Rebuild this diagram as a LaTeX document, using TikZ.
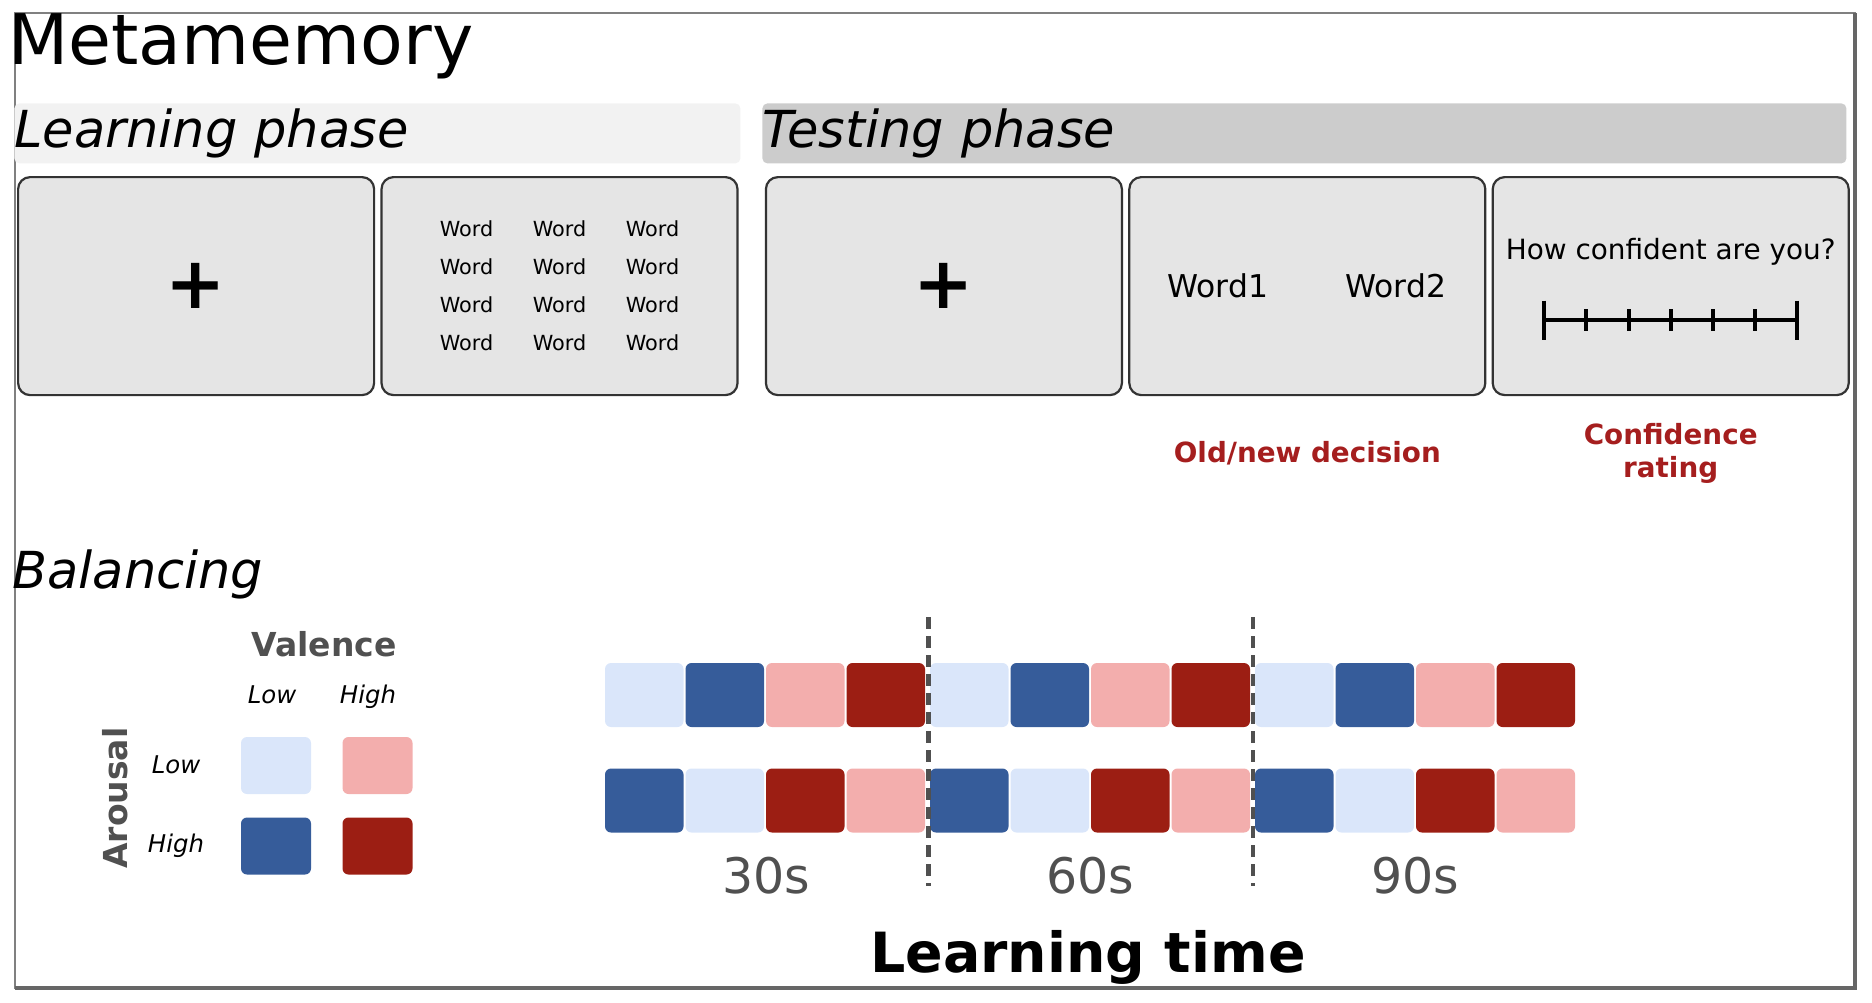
\documentclass[tikz,border=0pt]{standalone}
\usepackage{fontspec}
\setmainfont{DejaVu Sans}
\usepackage{xcolor}
\usepackage{tikz}
\usetikzlibrary{positioning}

\definecolor{lowlow}{HTML}{DAE6FA}
\definecolor{lowhigh}{HTML}{F3AEAD}
\definecolor{highlow}{HTML}{365C9A}
\definecolor{highhigh}{HTML}{9C1E13}
\definecolor{screenfill}{HTML}{E5E5E5}
\definecolor{cuered}{HTML}{A51E1E}
\definecolor{axisgray}{HTML}{505050}

\newcommand{\fixcross}{\fontsize{36}{36}\selectfont\bfseries +}

\begin{document}
\begin{tikzpicture}[
        x=0.5pt, y=-0.5pt,
        node distance=2.6pt and 2.6pt,
        % Styles
        screen/.style={
            rectangle, rounded corners=6pt,
            draw=black!80, line width=1.1pt,
            fill=screenfill,
            minimum width=178pt, minimum height=109pt,
            inner sep=0pt, align=center
        },
        phasebar/.style={
            rectangle, rounded corners=2.5pt,
            minimum height=30pt, inner sep=0pt,
            align=left, font=\fontsize{25.5}{30}\selectfont\itshape
        },
        wordtext/.style={font=\fontsize{10.4}{12}\selectfont, inner sep=0pt},
        cuetext/.style={
            text=cuered, align=center, inner sep=0pt,
            font=\fontsize{13.9}{16.5}\selectfont\bfseries
        },
        trial/.style={
            rectangle, rounded corners=3pt, inner sep=0pt,
            minimum width=39.25pt, minimum height=32pt
        },
        legendsq/.style={
            rectangle, rounded corners=3pt, inner sep=0pt,
            minimum width=35pt, minimum height=28.5pt
        },
        axislabel/.style={text=axisgray, inner sep=0pt, font=\fontsize{16.5}{20}\selectfont\bfseries},
        levellabel/.style={inner sep=0pt, font=\fontsize{12.2}{14}\selectfont\itshape},
        timetext/.style={text=axisgray, inner sep=0pt, font=\fontsize{24.5}{28}\selectfont},
        blockline/.style={draw=axisgray, line width=2.2pt, dash pattern=on 6pt off 3.5pt}
    ]
    \useasboundingbox (0,0) rectangle (1872,1002);

    % Frame
    \draw[gray, line width=0.8pt] (15,13) rectangle (1855,988);
    \draw[gray!80!black, line width=1.8pt] (1855,13) -- (1855,988) -- (15,988);

    % Titles
    \node[anchor=base west, inner sep=0pt, font=\fontsize{34.9}{40}\selectfont] (title) at (8,64) {Metamemory};
    \node[phasebar, fill=black!5, text width=363pt, anchor=north west] (learnbar) at (14,103) {Learning phase};
    \node[phasebar, fill=black!20, text width=542pt, anchor=north west] (testbar) at (762,103) {Testing phase};

    % Screens
    \node[screen, anchor=north west] (fix1) at (17,176) {\fixcross};
    \node[screen, right=of fix1] (study) {};
    \node[screen, right=of study, xshift=10.5pt] (fix2) {\fixcross};
    \node[screen, right=of fix2] (decide) {};
    \node[screen, right=of decide] (rate) {};

    % Study list
    \foreach \r in {0,...,3}
        \foreach \c in {0,1,2}
            \node[wordtext] (word\r\c) at ([shift={(\c*93-93,\r*38-57)}]study.center) {Word};

    % Old/new screen
    \node[font=\fontsize{15.7}{18}\selectfont, inner sep=0pt] (word1) at ([xshift=-44.75pt]decide.center) {Word1};
    \node[font=\fontsize{15.7}{18}\selectfont, inner sep=0pt] (word2) at ([xshift=44.25pt]decide.center) {Word2};

    % Rating screen
    \node[font=\fontsize{13.95}{16}\selectfont, inner sep=0pt] (question) at ([yshift=17.3pt]rate.center) {How confident are you?};
    \coordinate (scaleL) at ([shift={(-126.5,34)}]rate.center);
    \coordinate (scaleR) at ([shift={(126.5,34)}]rate.center);
    \draw[line width=2pt] (scaleL) -- (scaleR);
    \foreach \k in {0,6}
        \draw[line width=2.2pt] ([shift={(\k*42.17,-19.5)}]scaleL) -- ([shift={(\k*42.17,19.5)}]scaleL);
    \foreach \k in {1,...,5}
        \draw[line width=2pt] ([shift={(\k*42.17,-11)}]scaleL) -- ([shift={(\k*42.17,11)}]scaleL);

    % Cues
    \node[cuetext, anchor=base] (decidelabel) at ([yshift=-33pt]decide.south) {Old/new decision};
    \node[cuetext, anchor=north] (ratelabel) at ([yshift=-13.5pt]rate.south) {Confidence\\rating};

    % Balancing legend
    \node[anchor=base west, inner sep=0pt, font=\fontsize{25.5}{30}\selectfont\itshape] (balancetitle) at (12,588) {Balancing};
    \node[axislabel, anchor=base] (valence) at (324,656) {Valence};
    \node[levellabel, anchor=base] (vlow) at (272,703) {Low};
    \node[levellabel, anchor=base] (vhigh) at (368,703) {High};
    \node[axislabel, rotate=90, anchor=base] (arousal) at (127,798) {Arousal};
    \node[levellabel] (alow) at (176,765) {Low};
    \node[levellabel] (ahigh) at (176,846) {High};
    \node[legendsq, fill=lowlow] (sqLL) at (276,765.5) {};
    \node[legendsq, fill=lowhigh] (sqLH) at (377.5,765.5) {};
    \node[legendsq, fill=highlow] (sqHL) at (276,846) {};
    \node[legendsq, fill=highhigh] (sqHH) at (377.5,846) {};

    % Trial sequences
    \foreach \b in {0,1,2} {
        \foreach \c [count=\i from 0] in {lowlow,highlow,lowhigh,highhigh}
            \node[trial, fill=\c] (seqA\b\i) at ({644.25+325*\b+80.5*\i},695) {};
        \foreach \c [count=\i from 0] in {highlow,lowlow,highhigh,lowhigh}
            \node[trial, fill=\c] (seqB\b\i) at ({644.25+325*\b+80.5*\i},800.5) {};
    }
    \foreach \xc [count=\k] in {928.3,1253} {
        \coordinate (cut\k top) at (\xc,617);
        \coordinate (cut\k bot) at (\xc,886);
        \draw[blockline] (cut\k top) -- (cut\k bot);
    }
    \foreach \t [count=\b from 0] in {30s,60s,90s}
        \node[timetext, anchor=base] (time\b) at ({766+\b*324.5},893) {\t};
    \node[anchor=base, inner sep=0pt, font=\fontsize{27.7}{32}\selectfont\bfseries] (timeaxis) at (1088,972) {Learning time};

\end{tikzpicture}
\end{document}
